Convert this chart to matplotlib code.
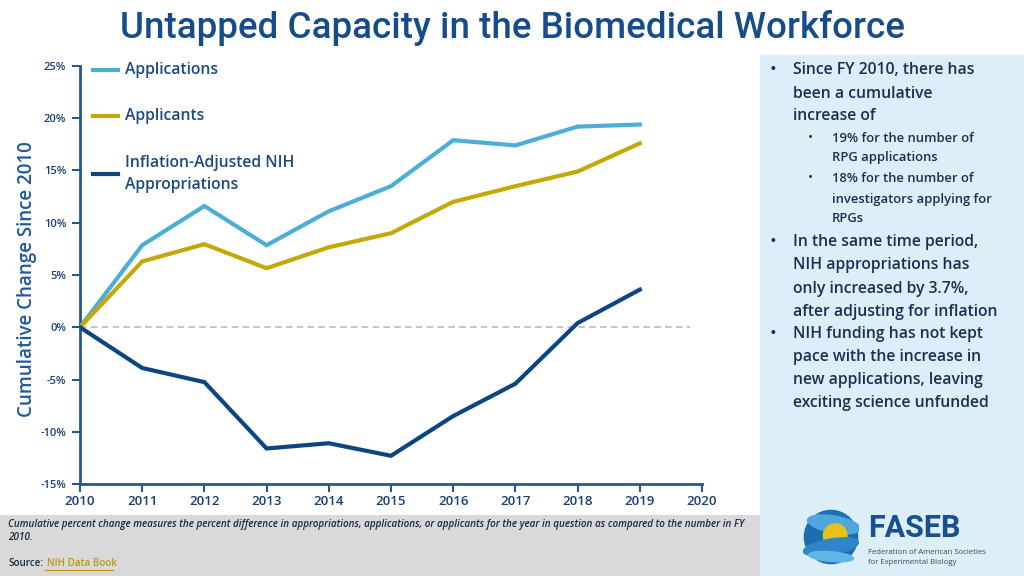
import matplotlib
matplotlib.use("Agg")
import matplotlib.pyplot as plt
from matplotlib.patches import Rectangle, Circle, Ellipse
from matplotlib.lines import Line2D

years = [2010, 2011, 2012, 2013, 2014, 2015, 2016, 2017, 2018, 2019]
applications = [0, 7.85, 11.6, 7.85, 11.1, 13.5, 17.9, 17.4, 19.2, 19.4]
applicants = [0, 6.3, 7.95, 5.65, 7.65, 9.0, 12.0, 13.5, 14.9, 17.6]
nih_approp = [0, -3.9, -5.25, -11.6, -11.1, -12.3, -8.5, -5.4, 0.4, 3.6]
series_names = ["Applications", "Applicants", "Inflation-Adjusted NIH\nAppropriations"]
series_colors = ["#4BAED8", "#C4A808", "#0D4580"]
yticks = [25, 20, 15, 10, 5, 0, -5, -10, -15]
xticks = list(range(2010, 2021))

W, H = 1024, 576
fig = plt.figure(figsize=(W / 100, H / 100), dpi=100)
fig.patch.set_facecolor("white")
FONT = "Open Sans"
NAVY = "#1A4A80"

def fx(px):
    return px / W

def fy(py):
    return 1 - py / H

# background panels
fig.add_artist(Rectangle((fx(760), 0), fx(264), fy(55), transform=fig.transFigure,
                         facecolor="#DCEEF8", edgecolor="none", zorder=0))
fig.add_artist(Rectangle((0, 0), fx(760), fy(515), transform=fig.transFigure,
                         facecolor="#D9D9D9", edgecolor="none", zorder=0))

# title
fig.text(0.5, fy(28), "Untapped Capacity in the Biomedical Workforce", ha="center", va="center",
         fontsize=26.5, color="#164C8C", family="Roboto", fontweight="medium")

ax = fig.add_axes([fx(80), fy(484), fx(702) - fx(80), fy(66) - fy(484)])
ax.set_facecolor("none")
series = [applications, applicants, nih_approp]
for vals, col, name in zip(series, series_colors, series_names):
    ax.plot(years, vals, color=col, lw=3, solid_joinstyle="miter", zorder=3, label=name)
ax.axhline(0, xmin=0, xmax=(690 - 80) / 622, color="#BBBBBB", lw=1.2, ls=(0, (4, 2.5)), zorder=1)
ax.set_xlim(2010, 2020)
ax.set_ylim(-15, 25)
ax.set_xticks(xticks)
ax.set_xticklabels([str(x) for x in xticks])
ax.set_yticks(yticks)
ax.set_yticklabels([f"{v}%" for v in yticks])
for s in ["top", "right"]:
    ax.spines[s].set_visible(False)
for s in ["left", "bottom"]:
    ax.spines[s].set_color("#1F5A96")
    ax.spines[s].set_linewidth(2)
ax.tick_params(axis="x", colors="#1F5A96", length=6, width=1.5, direction="out", labelsize=9.5,
               pad=2, labelcolor="#1A3F70")
ax.tick_params(axis="y", colors="#1F5A96", length=6, width=1.5, direction="out", labelsize=8,
               pad=4, labelcolor="#1A3F70")
for lab in ax.get_xticklabels() + ax.get_yticklabels():
    lab.set_family(FONT)
    lab.set_fontweight("semibold")

fig.text(fx(27), fy(279), "Cumulative Change Since 2010", rotation=90, ha="center", va="center",
         fontsize=13.5, color="#1F5A99", family=FONT, fontweight="semibold")

# legend (manual)
leg_y = [70, 116, 174]
for name, col, yy in zip(series_names, series_colors, leg_y):
    fig.add_artist(Line2D([fx(93), fx(118)], [fy(yy), fy(yy)], color=col, lw=3,
                          transform=fig.transFigure))
    fig.text(fx(125), fy(yy), name, ha="left", va="center", fontsize=11.3, color=NAVY,
             family=FONT, fontweight="semibold", linespacing=1.45)

# right panel text
TXT = "#1A3050"
main_lines = [
    (70, True, "Since FY 2010, there has"),
    (94, False, "been a cumulative"),
    (116, False, "increase of"),
]
sub_lines = [
    (138, True, "19% for the number of"),
    (158, False, "RPG applications"),
    (179, True, "18% for the number of"),
    (199, False, "investigators applying for"),
    (219, False, "RPGs"),
]
main_lines2 = [
    (242, True, "In the same time period,"),
    (265, False, "NIH appropriations has"),
    (289, False, "only increased by 3.7%,"),
    (312, False, "after adjusting for inflation"),
    (334, True, "NIH funding has not kept"),
    (357, False, "pace with the increase in"),
    (380, False, "new applications, leaving"),
    (403, False, "exciting science unfunded"),
]
for yy, bullet, t in main_lines + main_lines2:
    if bullet:
        fig.text(fx(773), fy(yy), "•", ha="center", va="center", fontsize=13, color=TXT, family=FONT)
    fig.text(fx(793), fy(yy), t, ha="left", va="center", fontsize=11.3, color=TXT, family=FONT,
             fontweight="semibold")
for yy, bullet, t in sub_lines:
    if bullet:
        fig.text(fx(810), fy(yy), "•", ha="center", va="center", fontsize=10, color=TXT, family=FONT)
    fig.text(fx(832), fy(yy), t, ha="left", va="center", fontsize=9.4, color=TXT, family=FONT,
             fontweight="semibold")

# footnote
FOOT = "#1A2A40"
FS = 7.15
fig.text(fx(8), fy(524), "Cumulative percent change measures the percent difference in appropriations, applications, or applicants for the year in question as compared to the number in FY",
         ha="left", va="center", fontsize=FS, style="italic", color=FOOT, family=FONT,
         fontweight="semibold")
fig.text(fx(8), fy(537), "2010.", ha="left", va="center", fontsize=FS, style="italic", color=FOOT,
         family=FONT, fontweight="semibold")
fig.text(fx(8), fy(563), "Source:", ha="left", va="center", fontsize=FS, color=FOOT, family=FONT,
         fontweight="semibold")
fig.text(fx(47), fy(563), "NIH Data Book", ha="left", va="center", fontsize=FS, color="#B89A10",
         family=FONT, fontweight="semibold")
fig.add_artist(Line2D([fx(45), fx(113)], [fy(570), fy(570)], color="#B89A10", lw=0.8,
                      transform=fig.transFigure))

# logo
lax = fig.add_axes([fx(803), fy(566), fx(56), fy(508) - fy(566)])
lax.set_xlim(-1, 1)
lax.set_ylim(-1, 1)
lax.set_aspect("equal")
lax.axis("off")
lax.add_patch(Circle((0, 0), 0.95, color="#1B6FB0"))
lax.add_patch(Ellipse((0.1, 0.45), 1.9, 0.6, angle=-10, color="#4FA8DD"))
lax.add_patch(Circle((0.15, 0.05), 0.42, color="#E8C21A"))
lax.add_patch(Ellipse((0.0, -0.35), 2.0, 0.55, angle=10, color="#2E86C8"))
lax.add_patch(Ellipse((0.0, -0.7), 1.6, 0.35, angle=-5, color="#5DB6E6"))

fig.text(fx(868), fy(528), "FASEB", ha="left", va="center", fontsize=22, color="#1A4F8F",
         family="Roboto", fontweight="bold")
fig.text(fx(868), fy(552), "Federation of American Societies", ha="left", va="center",
         fontsize=5.6, color="#3A4A5A", family=FONT)
fig.text(fx(868), fy(562), "for Experimental Biology", ha="left", va="center",
         fontsize=5.6, color="#3A4A5A", family=FONT)

fig.savefig("out.png", dpi=100, facecolor=fig.get_facecolor())
